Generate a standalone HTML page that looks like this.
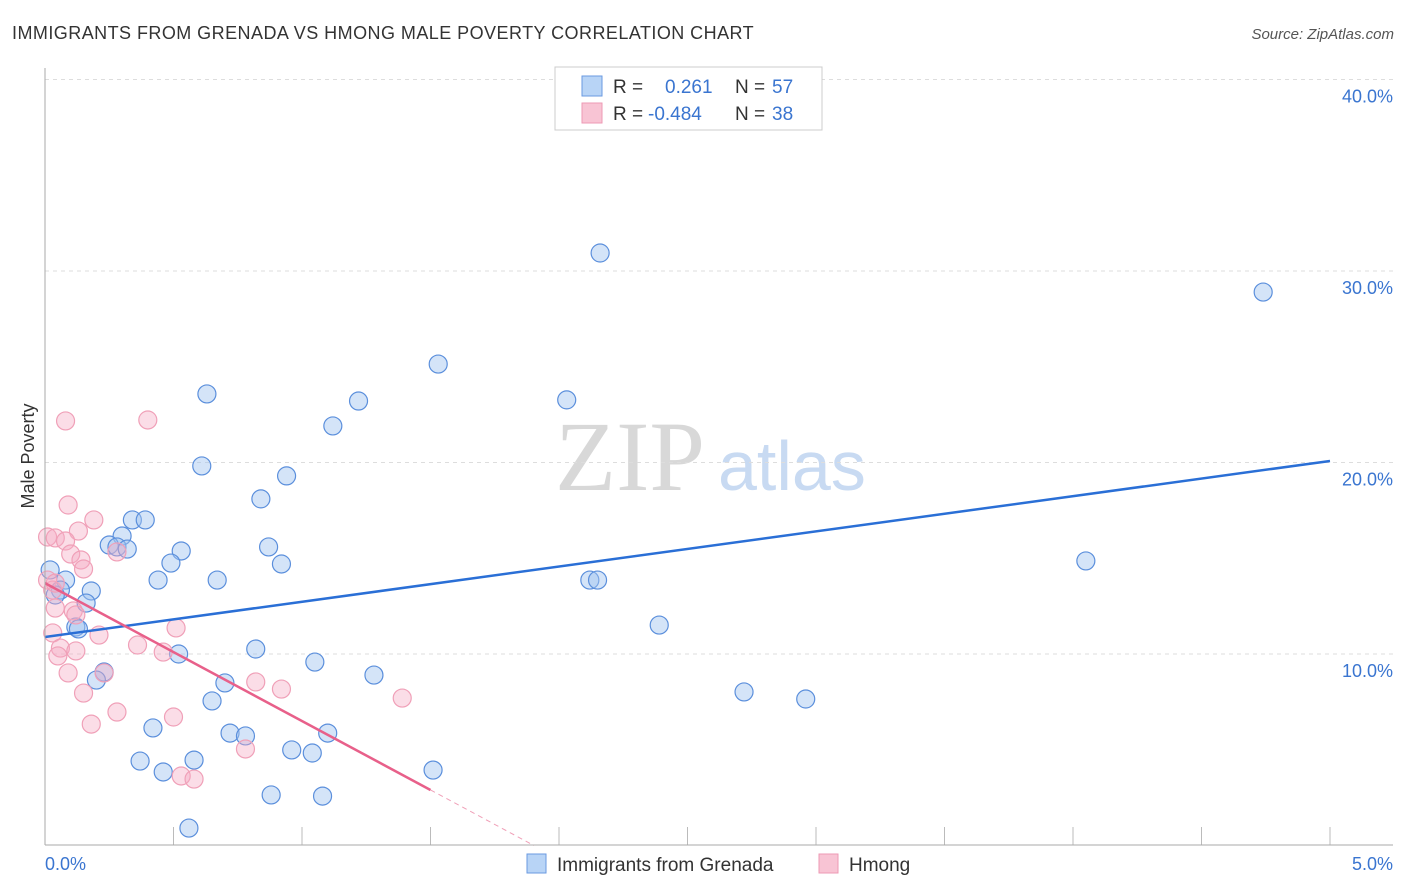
<!DOCTYPE html>
<html><head><meta charset="utf-8"><style>
body{margin:0;background:#fff;font-family:"Liberation Sans",sans-serif}
#c{position:relative;width:1406px;height:892px;overflow:hidden}
</style></head><body><div id="c">
<svg id="s" width="1406" height="892" xmlns="http://www.w3.org/2000/svg">
<text x="12" y="39" font-size="18" fill="#333" letter-spacing="0.45">IMMIGRANTS FROM GRENADA VS HMONG MALE POVERTY CORRELATION CHART</text>
<text x="1394" y="39" font-size="15" fill="#555" font-style="italic" text-anchor="end">Source: ZipAtlas.com</text>
<text x="34" y="456" font-size="18" fill="#333" transform="rotate(-90 34 456)" text-anchor="middle">Male Poverty</text>
<text x="555" y="490" font-size="100" fill="#d8d8d8" font-family="Liberation Serif,serif">ZIP</text>
<text x="718" y="490" font-size="70" fill="#c8daf2">atlas</text>
<g id="grid"></g><g id="pts"></g><g id="lines"></g>
<line x1="45" y1="68" x2="45" y2="845" stroke="#aaa"/>
<line x1="45" y1="845" x2="1393" y2="845" stroke="#aaa"/>
<text x="45" y="870" font-size="18" fill="#3a75d0">0.0%</text>
<text x="1393" y="870" font-size="18" fill="#3a75d0" text-anchor="end">5.0%</text>
<rect x="555" y="67" width="267" height="63" fill="#fff" stroke="#ccc"/>
<rect x="582" y="76" width="20" height="20" fill="#b8d4f6" stroke="#6a9ae0"/>
<rect x="582" y="103" width="20" height="20" fill="#f8c4d4" stroke="#ee9ab4"/>
<g font-size="19" fill="#333">
<text x="613" y="93">R = </text><text x="665" y="93" fill="#3a75d0">0.261</text><text x="735" y="93">N = </text><text x="772" y="93" fill="#3a75d0">57</text>
<text x="613" y="120">R = </text><text x="648" y="120" fill="#3a75d0">-0.484</text><text x="735" y="120">N = </text><text x="772" y="120" fill="#3a75d0">38</text></g>
<rect x="527" y="854" width="19" height="19" fill="#b8d4f6" stroke="#6a9ae0"/>
<text x="557" y="871" font-size="19" fill="#333">Immigrants from Grenada</text>
<rect x="819" y="854" width="19" height="19" fill="#f8c4d4" stroke="#ee9ab4"/>
<text x="849" y="871" font-size="19" fill="#333">Hmong</text>
</svg></div>
<script>
const yTicks=[10,20,30,40];
const yTickLabels=["10.0%","20.0%","30.0%","40.0%"];
const xTicks=[0.5,1,1.5,2,2.5,3,3.5,4,4.5,5];
const blueX=[2.16,4.74,1.53,0.63,2.03,1.22,1.12,0.61,0.94,0.84,0.34,0.39,0.30,0.25,0.28,0.32,0.53,0.87,0.49,0.92,4.05,0.44,0.67,2.12,2.15,0.02,0.08,0.06,0.18,0.04,0.16,0.12,0.13,2.39,0.82,0.52,1.05,1.28,0.23,0.20,0.70,2.72,2.96,0.65,0.42,0.72,0.78,1.10,0.96,1.04,0.37,0.58,0.46,1.51,0.88,1.08,0.56];
const blueY=[30.94,28.90,25.14,23.58,23.27,23.21,21.91,19.82,19.30,18.10,17.00,17.00,16.16,15.69,15.59,15.48,15.38,15.59,14.75,14.70,14.86,13.86,13.86,13.86,13.86,14.39,13.86,13.34,13.29,13.08,12.66,11.41,11.31,11.51,10.26,10.00,9.58,8.90,9.06,8.64,8.49,8.02,7.65,7.55,6.14,5.87,5.72,5.87,4.99,4.83,4.41,4.46,3.84,3.94,2.64,2.58,0.91];
const pinkX=[0.08,0.40,0.09,0.19,0.13,0.01,0.04,0.08,0.10,0.14,0.15,0.28,0.01,0.03,0.04,0.11,0.12,0.03,0.21,0.51,0.36,0.06,0.12,0.46,0.05,0.09,0.23,0.15,0.28,0.50,0.18,0.82,0.92,1.39,0.78,0.53,0.58,0.04];
const pinkY=[22.17,22.22,17.78,17.00,16.42,16.11,16.06,15.90,15.22,14.91,14.44,15.33,13.86,13.34,12.40,12.25,12.04,11.10,10.99,11.36,10.47,10.31,10.16,10.10,9.90,9.01,9.01,7.96,6.97,6.71,6.34,8.54,8.17,7.70,5.04,3.63,3.47,13.70];
const blueFit=[10.89,20.08];
const pinkFit=[13.7,-7.2];
const X=v=>45+v*257, Y=v=>845.5-v*19.15;
const NS="http://www.w3.org/2000/svg";
const mk=(t,a,p)=>{const e=document.createElementNS(NS,t);for(const k in a)e.setAttribute(k,a[k]);p.appendChild(e);return e;};
const g=document.getElementById('grid'),P=document.getElementById('pts'),L=document.getElementById('lines');
yTicks.forEach((v,i)=>{
 const l=mk('line',{x1:45,x2:1393,y1:Y(v),y2:Y(v),stroke:'#ddd','stroke-dasharray':'4 4'},g);
 
 
 const t=mk('text',{x:1393,y:Y(v)+23,'font-size':18,fill:'#3a75d0','text-anchor':'end'},g);
 t.textContent=yTickLabels[i];
 
 
});
xTicks.forEach(v=>{
 const l=mk('line',{x1:X(v),x2:X(v),y1:827,y2:845,stroke:'#bbb'},g);
 
 
});
blueX.forEach((v,i)=>{
 const c=mk('circle',{cx:X(v),cy:Y(blueY[i]),r:9,fill:'rgba(160,196,240,0.45)',stroke:'#5b8fdc','stroke-width':1.2},P);
 
 
});
pinkX.forEach((v,i)=>{
 const c=mk('circle',{cx:X(v),cy:Y(pinkY[i]),r:9,fill:'rgba(244,170,195,0.4)',stroke:'#f0a0b8','stroke-width':1.2},P);
 
 
});
const bl=mk('line',{x1:X(0),y1:Y(blueFit[0]),x2:X(5),y2:Y(blueFit[1]),stroke:'#2a6fd6','stroke-width':2.5},L);


const pf=x=>pinkFit[0]+pinkFit[1]*x;
const pl=mk('line',{x1:X(0),y1:Y(pf(0)),x2:X(1.5),y2:Y(pf(1.5)),stroke:'#e8608a','stroke-width':2.5},L);


const z=-pinkFit[0]/pinkFit[1];
const pd=mk('line',{x1:X(1.5),y1:Y(pf(1.5)),x2:X(z),y2:Y(0),stroke:'#f0a0b8','stroke-width':1,'stroke-dasharray':'5 4'},L);


</script></body></html>
